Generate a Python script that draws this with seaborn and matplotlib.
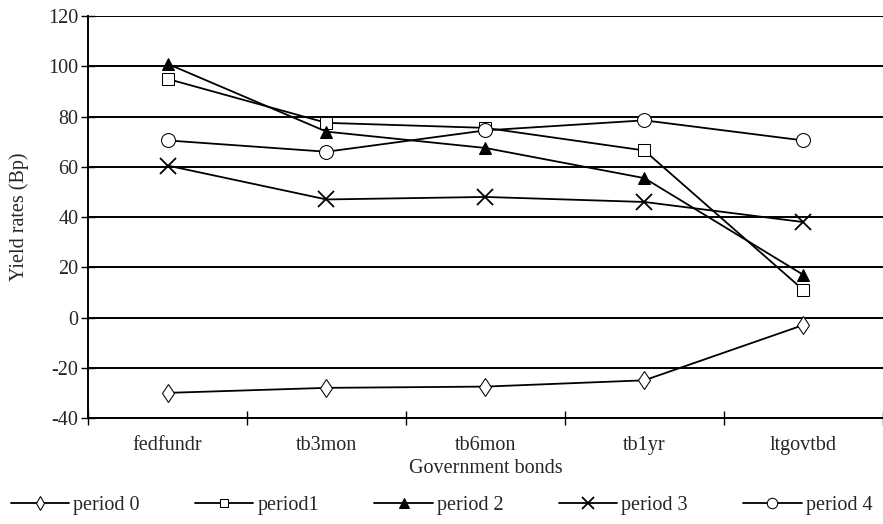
import matplotlib
matplotlib.use("Agg")
import matplotlib.pyplot as plt
import seaborn as sns
import pandas as pd

# values
bonds = ['fedfundr', 'tb3mon', 'tb6mon', 'tb1yr', 'ltgovtbd']
period0 = [-30, -28, -27.5, -25, -3]
period1 = [95, 77.5, 75.5, 66.5, 11]
period2 = [101, 74, 67.5, 55.5, 17]
period3 = [60.5, 47, 48, 46, 38]
period4 = [70.5, 66, 74.5, 78.5, 70.5]

series = {'period 0': period0, 'period1': period1, 'period 2': period2,
          'period 3': period3, 'period 4': period4}
styles = {'period 0': dict(marker='d', markersize=9.5, markerfacecolor='white'),
          'period1': dict(marker='s', markersize=8.5, markerfacecolor='white'),
          'period 2': dict(marker='^', markersize=9, markerfacecolor='black'),
          'period 3': dict(marker='x', markersize=12, markeredgewidth=1.3),
          'period 4': dict(marker='o', markersize=10, markerfacecolor='white')}

sns.set_style('white')
plt.rcParams['font.family'] = ['Liberation Serif', 'DejaVu Serif']

fig = plt.figure(figsize=(8.83, 5.24), dpi=100)
ax = fig.add_axes([0.0997, 0.2023, 0.9, 0.767])

for name, vals in series.items():
    df = pd.DataFrame({'x': range(len(bonds)), 'y': vals})
    sns.lineplot(data=df, x='x', y='y', ax=ax, color='black', linewidth=1.3,
                 markeredgecolor='black', label=name, **styles[name])

ax.set_xlim(-0.5, 4.5)
ax.set_ylim(-40, 120)
ax.set_yticks(range(-40, 121, 20))
ax.set_yticklabels([str(v) for v in range(-40, 121, 20)], fontsize=14.5)
ax.set_xticks([-0.5, 0.5, 1.5, 2.5, 3.5, 4.5])
ax.set_xticklabels([])
ax.set_xticks(range(len(bonds)), minor=True)
ax.set_xticklabels(bonds, minor=True, fontsize=14.5)
ax.tick_params(axis='x', which='major', bottom=True, direction='inout', length=10,
               width=1, color='black')
ax.tick_params(axis='x', which='minor', bottom=False, length=0, pad=13)
ax.tick_params(axis='y', left=True, direction='inout', length=10, width=1,
               color='black', pad=2)
ax.yaxis.grid(True, color='black', linewidth=1.4)
ax.set_axisbelow(True)
for s in ['top', 'right']:
    ax.spines[s].set_visible(False)
for s in ['left', 'bottom']:
    ax.spines[s].set_color('black')
    ax.spines[s].set_linewidth(1.4)

ax.set_xlabel('Government bonds', fontsize=14.5, labelpad=3)
ax.set_ylabel('Yield rates (Bp)', fontsize=14.5, labelpad=14)

handles, labels = ax.get_legend_handles_labels()
ax.get_legend().remove()
fig.legend(handles, labels, loc='lower center', ncol=5, frameon=False, fontsize=14.5,
           bbox_to_anchor=(0.5, -0.018), handlelength=2.9, handletextpad=0.2,
           columnspacing=2.75, markerscale=0.75)

fig.savefig('out.png', dpi=100)
